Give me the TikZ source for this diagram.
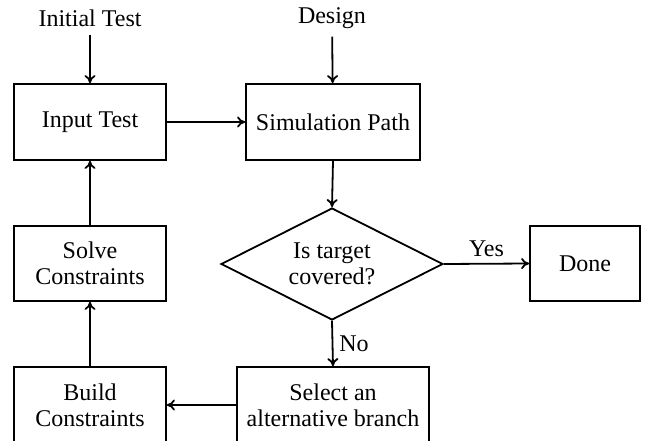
\documentclass[tikz,border=0pt]{standalone}
\usepackage{fontspec}
\setmainfont{Liberation Serif}
\usetikzlibrary{shapes.geometric,arrows.meta}
\begin{document}
\begin{tikzpicture}[x=1pt,y=-1pt,
  font=\fontsize{24}{26}\selectfont,
  box/.style={draw,line width=1.8pt,inner sep=0pt,align=center},
  lbl/.style={inner sep=8pt},
  conn/.style={line width=1.8pt,-{To[length=8pt,width=11pt]}}
]
\useasboundingbox (0,0) rectangle (654,441);
\node[lbl] (init) at (90,18) {Initial Test};
\node[lbl] (design) at (332,18) {Design};
\node[box,minimum width=152pt,minimum height=76pt] (input) at (90,122) {Input Test};
\node[box,minimum width=174pt,minimum height=76pt] (sim) at (333,122) {Simulation Path};
\node[box,minimum width=152pt,minimum height=75pt] (solve) at (90,263.5) {Solve\\Constraints};
\node[draw,line width=1.8pt,diamond,aspect=2,inner sep=0pt,align=center,minimum width=222pt,minimum height=112pt] (dec) at (332,264) {Is target\\covered?};
\node[box,minimum width=110pt,minimum height=75pt] (done) at (585,263.5) {Done};
\node[box,minimum width=152pt,minimum height=76pt] (build) at (90,405) {Build\\Constraints};
\node[box,minimum width=192pt,minimum height=76pt] (select) at (333,405) {Select an\\alternative branch};
\draw[conn] (init) -- (input);
\draw[conn] (design) -- (sim);
\draw[conn] (input) -- (sim);
\draw[conn] (sim.south) -- (dec.north);
\draw[conn] (dec.east) -- node[above,inner sep=6pt] (yes) {Yes} (done.west);
\draw[conn] (dec.south) -- node[right,inner sep=6pt] (no) {No} (select.north);
\draw[conn] (select.west) -- (build.east);
\draw[conn] (build) -- (solve);
\draw[conn] (solve) -- (input);
\end{tikzpicture}
\end{document}
